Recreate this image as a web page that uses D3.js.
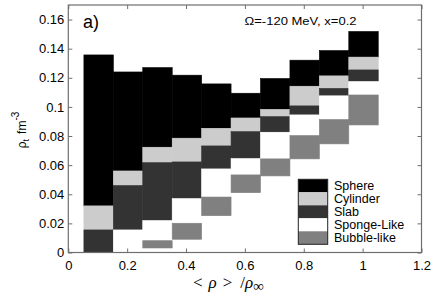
<!DOCTYPE html>
<html><head><meta charset="utf-8">
<script src="https://cdn.jsdelivr.net/npm/d3@7"></script>
<style>body{margin:0;background:#fff}svg{display:block}</style>
</head><body>
<script>
// ---- data ----
const xCenters = [0.103, 0.203, 0.303, 0.403, 0.503, 0.603, 0.703, 0.803, 0.903, 1.003];
const binWidth = 0.1;
const phases = ["Sphere", "Cylinder", "Slab", "Sponge-Like", "Bubble-like"];
const phaseColors = ["#000000", "#cccccc", "#333333", "#ffffff", "#808080"];
// [low, high] of rho_t for each column; null = phase absent
const sphere   = [[0.032,0.1357],[0.056,0.124],[0.0723,0.127],[0.0785,0.1218],[0.0853,0.1158],[0.0924,0.1094],[0.0983,0.1195],[0.1142,0.1321],[0.1213,0.1387],[0.1342,0.1518]];
const cylinder = [[0.0155,0.032],[0.046,0.056],[0.0617,0.0723],[0.0622,0.0785],[0.0732,0.0853],[0.083,0.0924],[0.0933,0.0983],[0.1007,0.1142],[0.1127,0.1213],[0.1254,0.1342]];
const slab     = [[0,0.0155],[0.0155,0.046],[0.0219,0.0617],[0.037,0.0622],[0.0574,0.0732],[0.0645,0.083],[0.0826,0.0933],[0.0945,0.1007],[0.1076,0.1127],[0.1174,0.1254]];
const sponge   = [null,[0,0.0155],[0.0081,0.0219],[0.0201,0.037],[0.0381,0.0574],[0.0533,0.0645],[0.0643,0.0826],[0.0803,0.0945],[0.0913,0.1076],[0.1082,0.1174]];
const bubble   = [null,null,[0.0031,0.0081],[0.0091,0.0201],[0.0253,0.0381],[0.0411,0.0533],[0.0526,0.0643],[0.0643,0.0803],[0.0746,0.0913],[0.0876,0.1082]];
const xTicks = [0, 0.2, 0.4, 0.6, 0.8, 1, 1.2];
const xTickLabels = ["0", "0.2", "0.4", "0.6", "0.8", "1", "1.2"];
const yTicks = [0, 0.02, 0.04, 0.06, 0.08, 0.1, 0.12, 0.14, 0.16];
const yTickLabels = ["0", "0.02", "0.04", "0.06", "0.08", "0.1", "0.12", "0.14", "0.16"];
const annotation = "Ω=-120 MeV, x=0.2";
const panelLabel = "a)";

const W = 436, H = 300;
const m = {l: 68.3, r: 436 - 421.5, t: 5, b: 300 - 252.5};
const svg = d3.select("body").append("svg").attr("width", W).attr("height", H);
const x = d3.scaleLinear().domain([0, 1.2]).range([m.l, W - m.r]);
const y = d3.scaleLinear().domain([0, 0.17]).range([H - m.b, m.t]);
const font = "'Liberation Sans', Arial, Helvetica, sans-serif";

// cells
const seriesList = [sphere, cylinder, slab, sponge, bubble];
const cells = [];
seriesList.forEach((s, k) => s.forEach((v, i) => { if (v) cells.push({k, xc: xCenters[i], lo: v[0], hi: v[1]}); }));
svg.append("g").selectAll("rect").data(cells).join("rect")
  .attr("x", d => x(d.xc - binWidth / 2))
  .attr("width", d => x(d.xc + binWidth / 2) - x(d.xc - binWidth / 2))
  .attr("y", d => y(d.hi))
  .attr("height", d => y(d.lo) - y(d.hi))
  .attr("fill", d => phaseColors[d.k])
  .attr("stroke", d => phaseColors[d.k]).attr("stroke-width", 0.6);

// axes
const axCol = "#6e6e6e";
function styleAxis(g, showText) {
  g.select(".domain").remove();
  g.selectAll("line").attr("stroke", axCol);
  g.selectAll("text").attr("fill", "#000").style("font-family", font).style("font-size", "13px");
  if (!showText) g.selectAll("text").remove();
}
svg.append("g").attr("transform", `translate(0,${H - m.b})`)
  .call(d3.axisBottom(x).tickValues(xTicks).tickFormat((d, i) => xTickLabels[i]).tickSize(-4).tickPadding(8))
  .call(g => styleAxis(g, true));
svg.append("g").attr("transform", `translate(0,${m.t})`)
  .call(d3.axisTop(x).tickValues(xTicks).tickSize(-4))
  .call(g => styleAxis(g, false));
svg.append("g").attr("transform", `translate(${m.l},0)`)
  .call(d3.axisLeft(y).tickValues(yTicks).tickFormat((d, i) => yTickLabels[i]).tickSize(-4).tickPadding(4))
  .call(g => styleAxis(g, true));
svg.append("g").attr("transform", `translate(${W - m.r},0)`)
  .call(d3.axisRight(y).tickValues(yTicks).tickSize(-4))
  .call(g => styleAxis(g, false));
svg.append("rect").attr("x", m.l).attr("y", m.t)
  .attr("width", W - m.r - m.l).attr("height", H - m.b - m.t)
  .attr("fill", "none").attr("stroke", axCol).attr("stroke-width", 1.2);

// texts
svg.append("text").attr("x", 83).attr("y", 28).text(panelLabel)
  .style("font-family", font).style("font-size", "18px");
svg.append("text").attr("x", 300.5).attr("y", 25).attr("text-anchor", "middle").text(annotation)
  .style("font-family", font).style("font-size", "11.5px").attr("textLength", 112).attr("lengthAdjust", "spacingAndGlyphs");

// y label
const yl = svg.append("text").attr("transform", "translate(26,130) rotate(-90)")
  .attr("text-anchor", "middle").style("font-family", font).style("font-size", "12px");
yl.append("tspan").text("ρ");
yl.append("tspan").attr("dy", 3).style("font-size", "9px").text("t");
yl.append("tspan").attr("dy", -3).attr("dx", 5).text("fm");
yl.append("tspan").attr("dy", -7).style("font-size", "10px").text("-3");

// x label
const xl = svg.append("text").attr("x", 193).attr("y", 288)
  .style("font-family", "'Liberation Serif', 'Times New Roman', serif").style("font-size", "17px");
xl.append("tspan").text("<");
xl.append("tspan").attr("dx", 6).style("font-style", "italic").text("ρ");
xl.append("tspan").attr("dx", 6).text(">");
xl.append("tspan").attr("dx", 8).text("/");
xl.append("tspan").style("font-style", "italic").text("ρ");
xl.append("tspan").attr("dy", 3).style("font-size", "15px").text("∞");

// legend
const lg = svg.append("g");
const lx = 298.3, ly = 179.3, lw = 29.4, lh = 13;
lg.selectAll("rect.sw").data(phases).join("rect").attr("class", "sw")
  .attr("x", lx).attr("y", (d, i) => ly + i * lh).attr("width", lw).attr("height", lh)
  .attr("fill", (d, i) => phaseColors[i]);
lg.append("rect").attr("x", lx).attr("y", ly).attr("width", lw).attr("height", lh * phases.length)
  .attr("fill", "none").attr("stroke", "#222").attr("stroke-width", 1);
lg.selectAll("text").data(phases).join("text")
  .attr("x", 334).attr("y", (d, i) => ly + i * lh + lh / 2 + 4.5).text(d => d)
  .style("font-family", font).style("font-size", "12.5px");
</script>
</body></html>
